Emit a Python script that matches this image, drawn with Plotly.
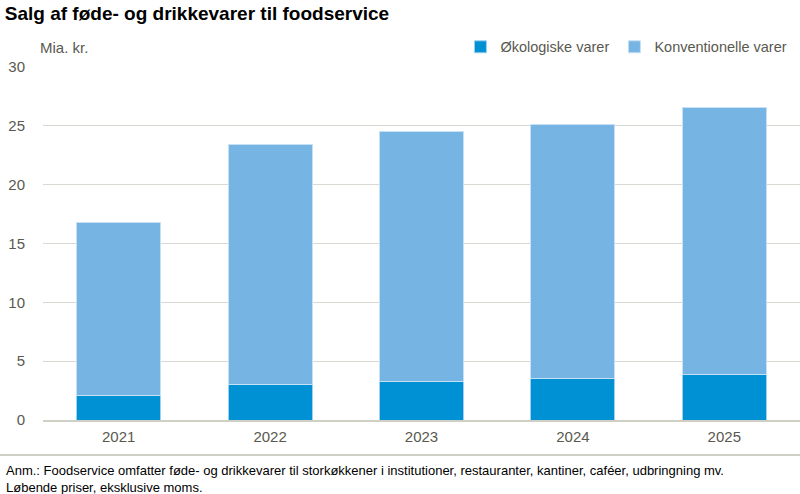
import plotly.graph_objects as go

# --- Data (Mia. kr.) ---
years = ['2021', '2022', '2023', '2024', '2025']
organic = [2.1, 3.0, 3.3, 3.5, 3.9]
conventional = [14.7, 20.4, 21.2, 21.6, 22.7]
y_ticks = [0, 5, 10, 15, 20, 25, 30]

FONT = 'Liberation Sans, Arial'
TEXT_GREY = '#595950'

fig = go.Figure()
fig.add_trace(go.Bar(
    x=years, y=organic, name='Økologiske varer',
    marker=dict(color='#0090D4', line=dict(color='#9fd0ef', width=1))
))
fig.add_trace(go.Bar(
    x=years, y=conventional, name='Konventionelle varer',
    marker=dict(color='#76B5E3', line=dict(color='#c6e0f5', width=1))
))

fig.update_layout(
    barmode='stack',
    bargap=0.445,
    width=800, height=494,
    margin=dict(l=43, r=0, t=67, b=74),
    plot_bgcolor='white', paper_bgcolor='white',
    font=dict(family=FONT, size=15, color=TEXT_GREY),
    showlegend=True,
    legend=dict(
        orientation='h', x=0.99, xanchor='right', y=1.057, yanchor='middle',
        font=dict(family=FONT, size=14.5, color=TEXT_GREY),
        traceorder='normal', itemwidth=30, bgcolor='rgba(0,0,0,0)'
    ),
    title=dict(
        text='<b>Salg af føde- og drikkevarer til foodservice</b>',
        x=0.006, xanchor='left', y=0.972, yanchor='middle',
        font=dict(family=FONT, size=19, color='black')
    ),
)

fig.update_yaxes(
    range=[0, 30], tickvals=y_ticks,
    showgrid=True, gridcolor='#D9D9D4', gridwidth=1,
    zeroline=False, showline=False,
    ticks='outside', ticklen=14, tickcolor='rgba(0,0,0,0)',
    tickfont=dict(family=FONT, size=15, color=TEXT_GREY)
)
fig.update_xaxes(
    showline=True, linecolor='#CFCFC6', linewidth=1.5,
    ticks='outside', ticklen=2, tickcolor='rgba(0,0,0,0)',
    tickfont=dict(family=FONT, size=15, color=TEXT_GREY)
)

# y-axis unit label
fig.add_annotation(
    text='Mia. kr.', xref='paper', yref='paper', x=-0.007, y=1.056,
    xanchor='left', yanchor='middle', showarrow=False,
    font=dict(family=FONT, size=15, color=TEXT_GREY)
)

# separator above footnote
fig.add_shape(
    type='line', xref='paper', yref='paper', x0=-0.06, x1=1.0,
    y0=-0.099, y1=-0.099, line=dict(color='#CFCFC6', width=2)
)

fig.add_annotation(
    text=('Anm.: Foodservice omfatter føde- og drikkevarer til storkøkkener i institutioner, '
          'restauranter, kantiner, caféer, udbringning mv.<br>Løbende priser, eksklusive moms.'),
    xref='paper', yref='paper', x=-0.051, y=-0.117, xanchor='left', yanchor='top',
    align='left', showarrow=False,
    font=dict(family=FONT, size=13, color='black')
)

fig.write_html('out.html', config={'displayModeBar': False},
               post_script="document.body.style.margin='0';")
